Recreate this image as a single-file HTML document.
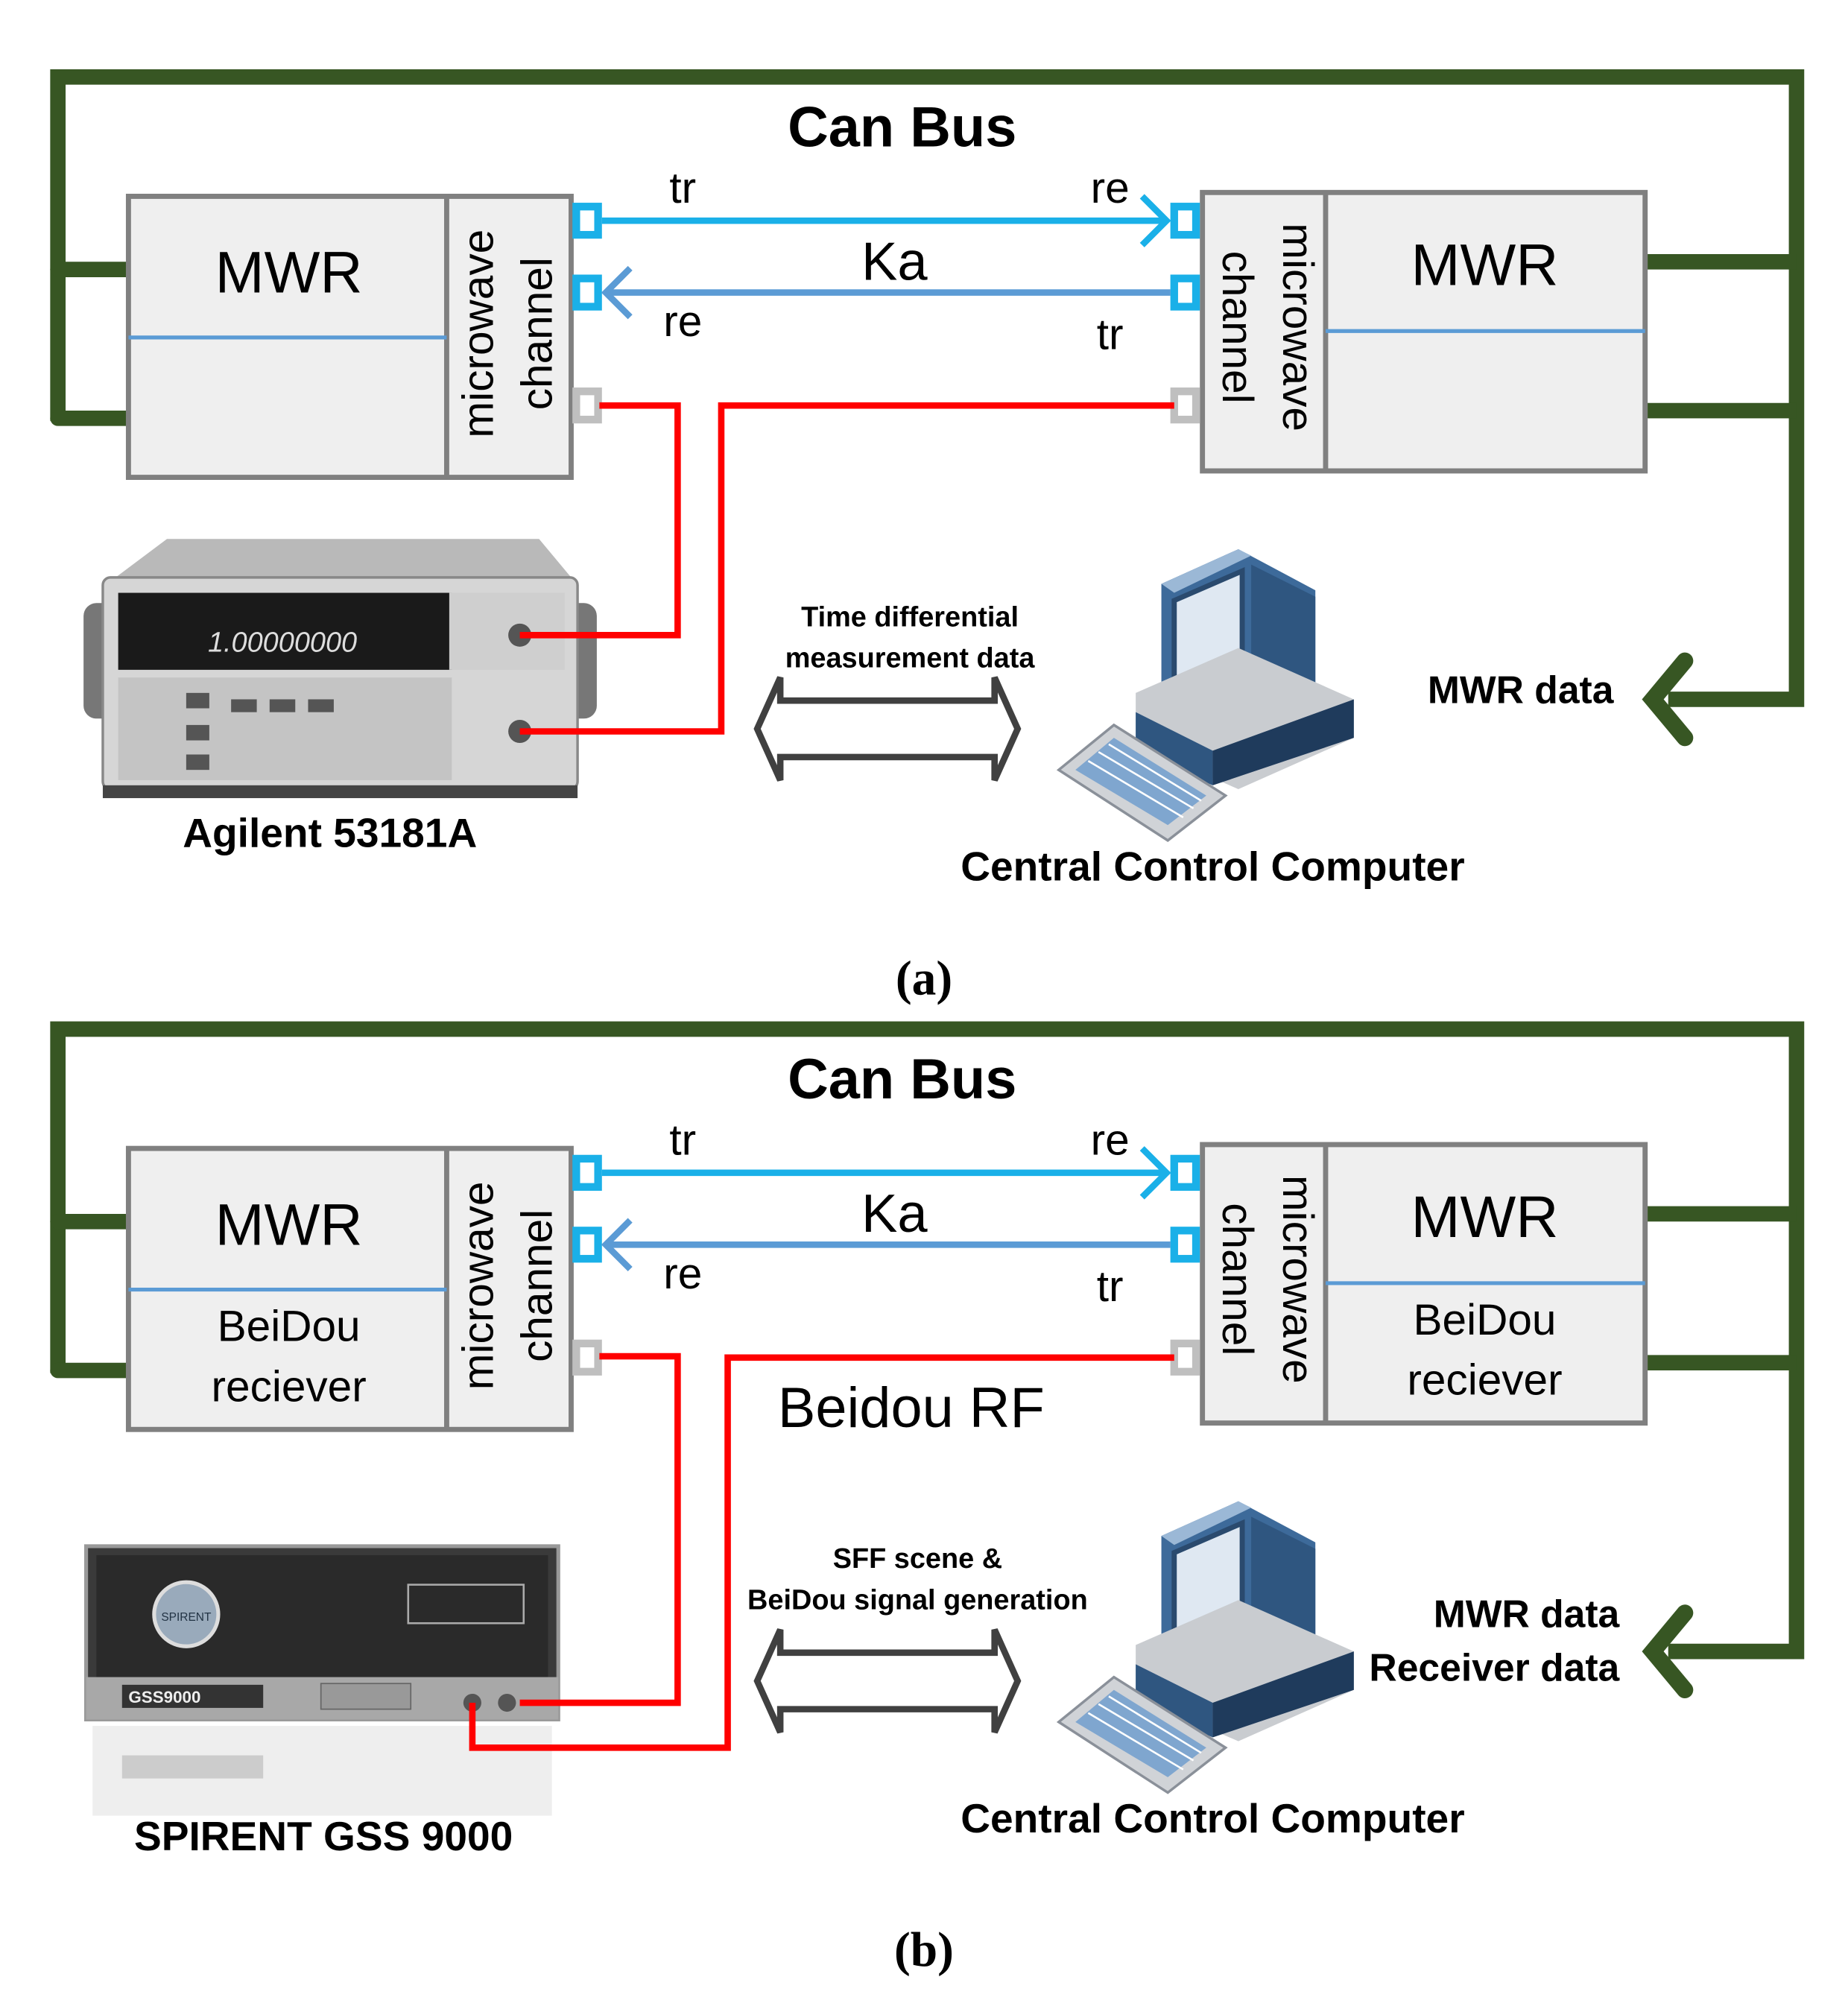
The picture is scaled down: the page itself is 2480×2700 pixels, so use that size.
<!DOCTYPE html>
<html><head><meta charset="utf-8"><style>
html,body{margin:0;padding:0;background:#fff;}
svg{display:block;}
text{font-family:"Liberation Sans",sans-serif;}
.b{font-weight:bold;}
</style></head><body>
<svg width="2480" height="2700" viewBox="0 0 1440 1568" xmlns="http://www.w3.org/2000/svg">
<defs>
<g id="comp">
  <polygon points="905,455 965,428 1025,460 1025,545 965,575 905,545" fill="#3d6a9a"/>
  <polygon points="905,455 965,428 975,433 915,462" fill="#9bb8d6"/>
  <polygon points="915,468 968,445 968,540 915,560" fill="#dfe8f2" stroke="#2a4a6e" stroke-width="4"/>
  <polygon points="975,440 1025,465 1025,540 975,565" fill="#2f5680"/>
  <polygon points="885,540 965,505 1055,545 1055,575 965,615 885,580" fill="#c9ccd0"/>
  <polygon points="885,555 945,585 945,612 885,585" fill="#2f5680"/>
  <polygon points="945,585 1055,545 1055,575 945,612" fill="#1f3b5c"/>
  <polygon points="825,600 868,565 955,620 910,655" fill="#d0d3d7" stroke="#8a9099" stroke-width="2"/>
  <polygon points="838,600 868,575 940,620 910,643" fill="#7fa6cf"/>
  <g stroke="#fff" stroke-width="1.5">
    <line x1="848" y1="593" x2="922" y2="637"/><line x1="856" y1="586" x2="930" y2="630"/><line x1="864" y1="580" x2="936" y2="624"/>
  </g>
</g>
<g id="frame">
  <g stroke="#375623" stroke-width="12" fill="none" stroke-linejoin="miter">
    <polyline points="45,328 45,60 1400,60 1400,545 1300,545"/>
    <line x1="45" y1="210" x2="103" y2="210" stroke-linecap="round"/>
    <line x1="45" y1="326" x2="103" y2="326" stroke-linecap="round"/>
    <line x1="1280" y1="204" x2="1400" y2="204"/>
    <line x1="1280" y1="320" x2="1400" y2="320"/>
    <polyline points="1313,515 1288,545 1313,575" stroke-linecap="round" stroke-width="13"/>
  </g>
  <text x="703" y="114" font-size="44" text-anchor="middle" class="b">Can Bus</text>
  <rect x="100" y="153" width="345" height="219" fill="#efefef" stroke="#808080" stroke-width="4"/>
  <line x1="348" y1="153" x2="348" y2="372" stroke="#808080" stroke-width="4"/>
  <line x1="100" y1="263" x2="348" y2="263" stroke="#5b9bd5" stroke-width="3"/>
  <text transform="translate(384,260) rotate(-90)" font-size="34" text-anchor="middle">microwave</text>
  <text transform="translate(430,260) rotate(-90)" font-size="34" text-anchor="middle">channel</text>
  <rect x="937" y="150" width="345" height="217" fill="#efefef" stroke="#808080" stroke-width="4"/>
  <line x1="1033" y1="150" x2="1033" y2="367" stroke="#808080" stroke-width="4"/>
  <line x1="1033" y1="258" x2="1282" y2="258" stroke="#5b9bd5" stroke-width="3"/>
  <text transform="translate(1000,255) rotate(90)" font-size="34" text-anchor="middle">microwave</text>
  <text transform="translate(953,255) rotate(90)" font-size="34" text-anchor="middle">channel</text>
  <g fill="#fff" stroke-width="6">
    <rect x="449" y="161" width="17" height="22" stroke="#1ab0e8"/>
    <rect x="449" y="217" width="17" height="22" stroke="#1ab0e8"/>
    <rect x="449" y="305" width="17" height="22" stroke="#bfbfbf"/>
    <rect x="915" y="161" width="17" height="22" stroke="#1ab0e8"/>
    <rect x="915" y="217" width="17" height="22" stroke="#1ab0e8"/>
    <rect x="915" y="305" width="17" height="22" stroke="#bfbfbf"/>
  </g>
  <line x1="469" y1="172" x2="908" y2="172" stroke="#1ab0e8" stroke-width="5"/>
  <polyline points="890,153 909,172 890,191" fill="none" stroke="#1ab0e8" stroke-width="5"/>
  <line x1="472" y1="228" x2="912" y2="228" stroke="#5b9bd5" stroke-width="5"/>
  <polyline points="491,209 472,228 491,247" fill="none" stroke="#5b9bd5" stroke-width="5"/>
  <g font-size="34">
    <text x="532" y="158" text-anchor="middle">tr</text>
    <text x="865" y="158" text-anchor="middle">re</text>
    <text x="697" y="218" text-anchor="middle" font-size="42">Ka</text>
    <text x="532" y="262" text-anchor="middle">re</text>
    <text x="865" y="272" text-anchor="middle">tr</text>
  </g>
  <polygon points="590,568 608,528 608,546 775,546 775,528 793,568 775,608 775,590 608,590 608,608" fill="#fff" stroke="#404040" stroke-width="5" stroke-linejoin="miter"/>
  <line x1="606" y1="568" x2="777" y2="568" stroke="#fff" stroke-width="3"/>
  <use href="#comp"/>
  <text x="945" y="686" font-size="32" text-anchor="middle" class="b">Central Control Computer</text>
</g>
</defs>

<use href="#frame"/>
<text x="225" y="228" font-size="46" text-anchor="middle">MWR</text>
<text x="1157" y="222" font-size="46" text-anchor="middle">MWR</text>
<text x="709" y="488" font-size="22" text-anchor="middle" class="b">Time differential</text>
<text x="709" y="520" font-size="22" text-anchor="middle" class="b">measurement data</text>
<text x="1185" y="548" font-size="30" text-anchor="middle" class="b">MWR data</text>
<rect x="65" y="470" width="40" height="90" rx="10" fill="#777"/>
<rect x="425" y="470" width="40" height="90" rx="10" fill="#777"/>
<polygon points="130,420 420,420 445,450 90,450" fill="#b9b9b9"/>
<rect x="80" y="450" width="370" height="165" rx="6" fill="#d6d6d6" stroke="#888" stroke-width="2"/>
<rect x="92" y="462" width="260" height="60" fill="#1a1a1a"/>
<text x="220" y="508" font-size="22" fill="#ddd" text-anchor="middle" font-style="italic">1.00000000</text>
<rect x="350" y="462" width="90" height="60" fill="#cfcfcf"/>
<rect x="92" y="528" width="260" height="80" fill="#c4c4c4"/>
<g fill="#555"><rect x="145" y="540" width="18" height="12"/><rect x="145" y="565" width="18" height="12"/><rect x="145" y="588" width="18" height="12"/><rect x="180" y="545" width="20" height="10"/><rect x="210" y="545" width="20" height="10"/><rect x="240" y="545" width="20" height="10"/></g>
<circle cx="405" cy="495" r="9" fill="#555"/><circle cx="405" cy="570" r="9" fill="#555"/>
<rect x="80" y="612" width="370" height="10" fill="#444"/>
<polyline points="467,316 528,316 528,495 405,495" fill="none" stroke="#ff0000" stroke-width="5"/>
<polyline points="915,316 562,316 562,570 405,570" fill="none" stroke="#ff0000" stroke-width="5"/>
<text x="257" y="660" font-size="32" text-anchor="middle" class="b">Agilent 53181A</text>
<text x="720" y="775" font-size="38" text-anchor="middle" font-weight="bold" style="font-family:'Liberation Serif',serif">(a)</text>

<g transform="translate(0,742)"><use href="#frame"/></g>
<text x="225" y="970" font-size="46" text-anchor="middle">MWR</text>
<text x="225" y="1045" font-size="34" text-anchor="middle">BeiDou</text>
<text x="225" y="1092" font-size="34" text-anchor="middle">reciever</text>
<text x="1157" y="964" font-size="46" text-anchor="middle">MWR</text>
<text x="1157" y="1040" font-size="34" text-anchor="middle">BeiDou</text>
<text x="1157" y="1087" font-size="34" text-anchor="middle">reciever</text>
<text x="710" y="1112" font-size="44" text-anchor="middle">Beidou RF</text>
<text x="715" y="1222" font-size="22" text-anchor="middle" class="b">SFF scene &amp;</text>
<text x="715" y="1254" font-size="22" text-anchor="middle" class="b">BeiDou signal generation</text>
<text x="1262" y="1268" font-size="30" text-anchor="end" class="b">MWR data</text>
<text x="1262" y="1310" font-size="30" text-anchor="end" class="b">Receiver data</text>
<rect x="72" y="1345" width="358" height="70" fill="#eee"/>
<rect x="95" y="1368" width="110" height="18" fill="#ccc"/>
<rect x="67" y="1205" width="368" height="135" fill="#3a3a3a" stroke="#999" stroke-width="3"/>
<rect x="75" y="1212" width="352" height="95" fill="#2a2a2a"/>
<circle cx="145" cy="1258" r="25" fill="#9ab" stroke="#ddd" stroke-width="3"/>
<text x="145" y="1263" font-size="9" text-anchor="middle" fill="#234">SPIRENT</text>
<rect x="318" y="1235" width="90" height="30" fill="none" stroke="#aaa" stroke-width="1.5"/>
<rect x="67" y="1307" width="368" height="33" fill="#a8a8a8"/>
<rect x="95" y="1313" width="110" height="18" fill="#333"/>
<text x="100" y="1327" font-size="13" fill="#eee" class="b">GSS9000</text>
<rect x="250" y="1312" width="70" height="20" fill="#999" stroke="#666"/>
<circle cx="368" cy="1327" r="7" fill="#555"/><circle cx="395" cy="1327" r="7" fill="#555"/>
<polyline points="467,1057 528,1057 528,1327 405,1327" fill="none" stroke="#ff0000" stroke-width="5"/>
<polyline points="915,1058 567,1058 567,1362 368,1362 368,1327" fill="none" stroke="#ff0000" stroke-width="5"/>
<text x="252" y="1442" font-size="32" text-anchor="middle" class="b">SPIRENT GSS 9000</text>
<text x="720" y="1532" font-size="38" text-anchor="middle" font-weight="bold" style="font-family:'Liberation Serif',serif">(b)</text>
</svg>
</body></html>
